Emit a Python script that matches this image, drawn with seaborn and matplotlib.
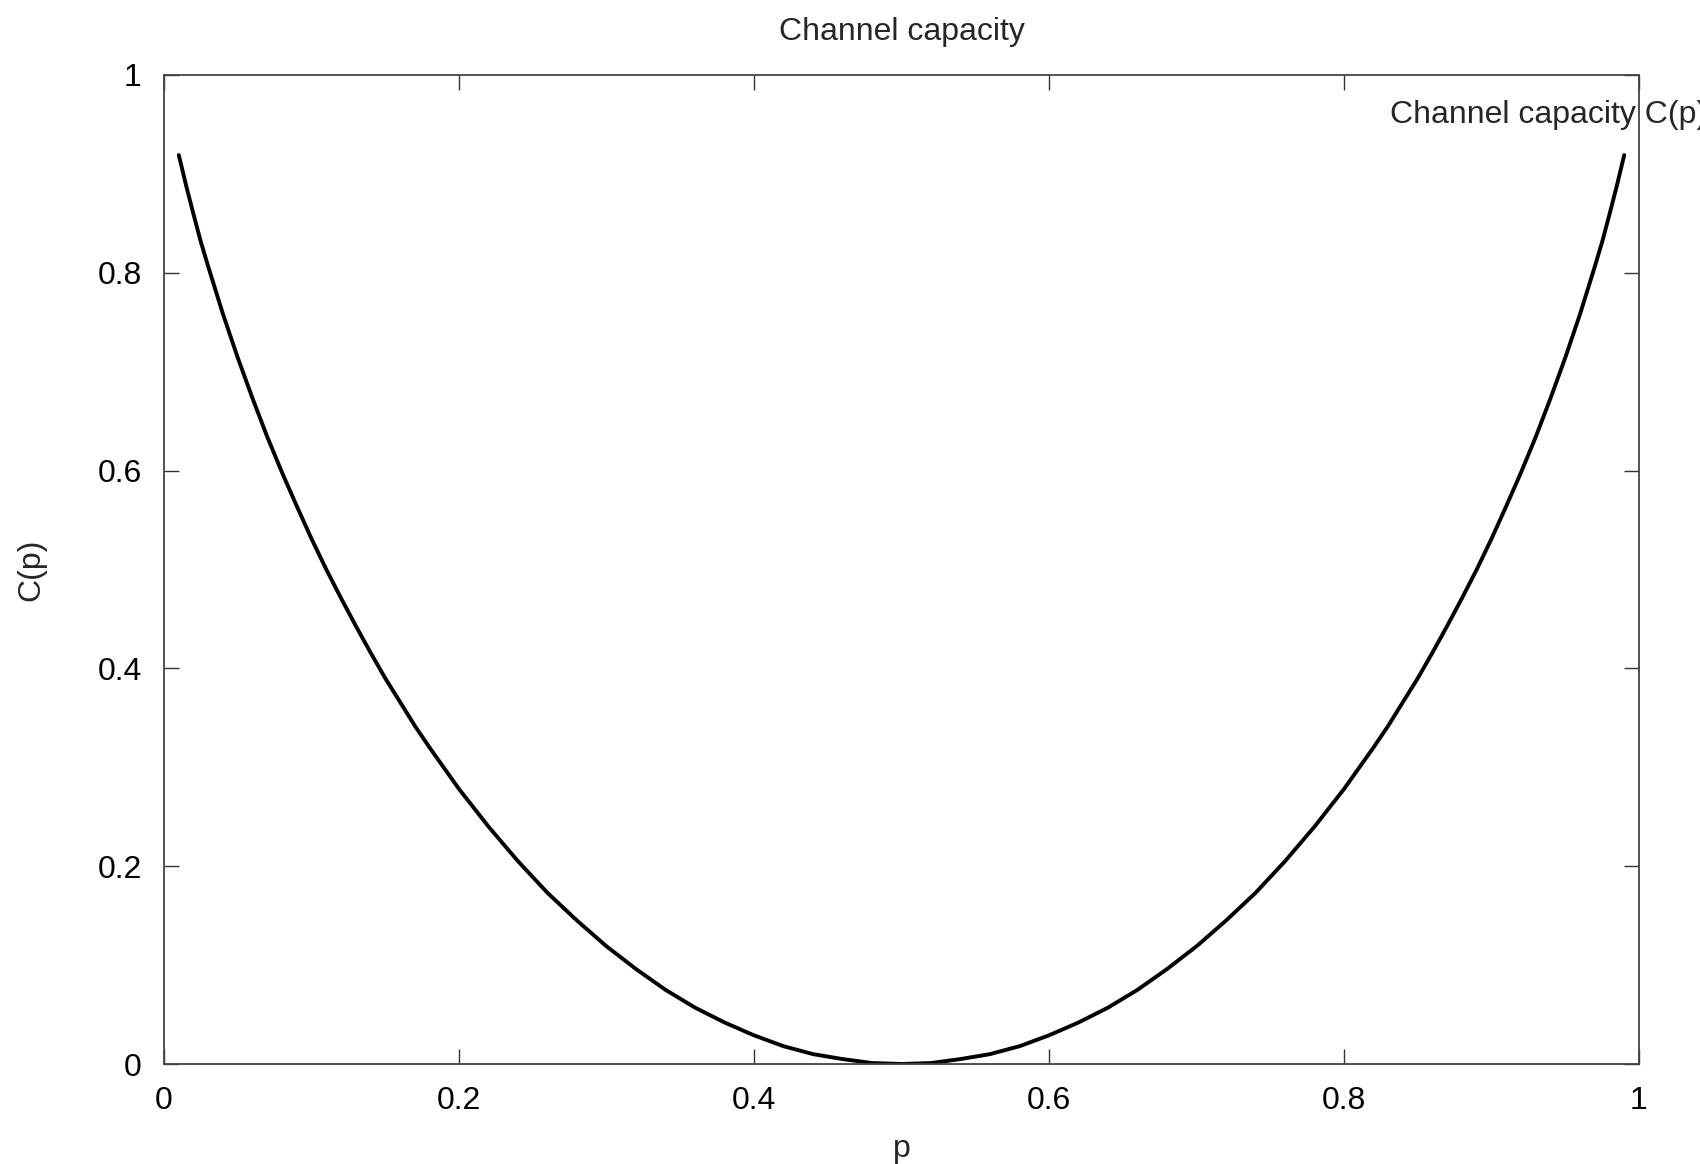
import pandas as pd
import matplotlib
matplotlib.use("Agg")
import matplotlib.pyplot as plt
import seaborn as sns

# values
p_vals = [0.01, 0.015, 0.02, 0.025, 0.03, 0.04, 0.05, 0.06, 0.07, 0.08, 0.09,
          0.10, 0.11, 0.12, 0.13, 0.14, 0.15, 0.16, 0.17, 0.18, 0.19, 0.20,
          0.22, 0.24, 0.26, 0.28, 0.30, 0.32, 0.34, 0.36, 0.38, 0.40, 0.42,
          0.44, 0.46, 0.48, 0.50,
          0.52, 0.54, 0.56, 0.58, 0.60, 0.62, 0.64, 0.66, 0.68, 0.70, 0.72,
          0.74, 0.76, 0.78, 0.80, 0.81, 0.82, 0.83, 0.84, 0.85, 0.86, 0.87,
          0.88, 0.89, 0.90, 0.91, 0.92, 0.93, 0.94, 0.95, 0.96, 0.97, 0.975,
          0.98, 0.985, 0.99]
c_vals = [0.919, 0.888, 0.859, 0.831, 0.806, 0.758, 0.714, 0.673, 0.634, 0.598, 0.564,
          0.531, 0.500, 0.471, 0.443, 0.416, 0.390, 0.366, 0.342, 0.320, 0.299, 0.278,
          0.240, 0.205, 0.173, 0.145, 0.119, 0.096, 0.075, 0.057, 0.042, 0.029, 0.018,
          0.010, 0.005, 0.001, 0.000,
          0.001, 0.005, 0.010, 0.018, 0.029, 0.042, 0.057, 0.075, 0.096, 0.119, 0.145,
          0.173, 0.205, 0.240, 0.278, 0.299, 0.320, 0.342, 0.366, 0.390, 0.416, 0.443,
          0.471, 0.500, 0.531, 0.564, 0.598, 0.634, 0.673, 0.714, 0.758, 0.806, 0.831,
          0.859, 0.888, 0.919]
tick_vals = [0, 0.2, 0.4, 0.6, 0.8, 1]
tick_labels = ["0", "0.2", "0.4", "0.6", "0.8", "1"]

df = pd.DataFrame({"p": p_vals, "C(p)": c_vals})

sns.set_style("ticks")
plt.rcParams['font.family'] = ['Liberation Sans', 'DejaVu Sans']

fig = plt.figure(figsize=(17, 11.64), dpi=100)
ax = fig.add_axes([0.0965, 0.0859, 0.8676, 0.8497])

sns.lineplot(data=df, x="p", y="C(p)", color="black", linewidth=2.8,
             sort=False, estimator=None, label="Channel capacity C(p)", ax=ax)

ax.set_xlim(0, 1)
ax.set_ylim(0, 1)
ax.set_xticks(tick_vals)
ax.set_xticklabels(tick_labels)
ax.set_yticks(tick_vals)
ax.set_yticklabels(tick_labels)
ax.tick_params(direction="in", length=11, width=1, color="#333333",
               top=True, right=True, labelsize=23, pad=16, labelcolor="black")
for s in ax.spines.values():
    s.set_visible(True)
    s.set_color("#444444")
    s.set_linewidth(1.3)

ax.set_title("Channel capacity", fontsize=23, pad=25)
ax.set_xlabel("p", fontsize=23, labelpad=13)
ax.set_ylabel("C(p)", fontsize=23, labelpad=37)

ax.legend(loc="center left", bbox_to_anchor=(0.831, 0.96), frameon=False,
          markerfirst=False, fontsize=23, borderpad=0, borderaxespad=0,
          handlelength=2.5)

fig.savefig("out.png", dpi=100)
